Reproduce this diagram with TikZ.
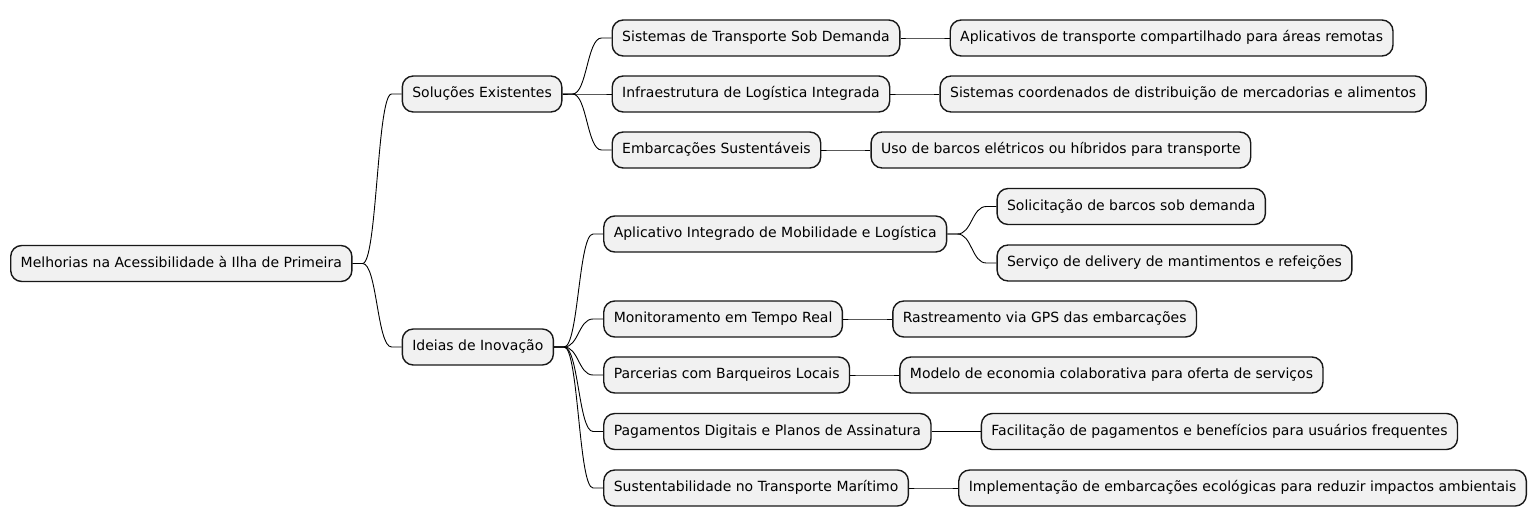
\documentclass[tikz,border=0pt]{standalone}
\usepackage{fontspec}
\setmainfont{DejaVu Sans}
\usetikzlibrary{calc}
\definecolor{boxfill}{HTML}{F1F1F1}
\definecolor{boxline}{HTML}{181818}
\begin{document}
\begin{tikzpicture}[x=1pt,y=-1pt,
  box/.style={draw=boxline, fill=boxfill, line width=1.4pt, rounded corners=11pt,
    anchor=west, inner xsep=10pt, inner ysep=0pt, minimum height=36pt,
    text height=10.5pt, text depth=3pt, font=\fontsize{14}{16}\selectfont},
  link/.style={draw=black, line width=0.9pt,
    to path={-- ++(10,0) .. controls +(14.5,0) and +(-14.5,0) .. ([xshift=-10pt]\tikztotarget) -- (\tikztotarget)}}
]
\useasboundingbox (0,0) rectangle (1538,527);
\node[box] (root) at (10,263.5) {Melhorias na Acessibilidade à Ilha de Primeira};
% level 1
\coordinate (L1) at ([xshift=49pt]root.east);
\node[box] (sol) at (L1 |- 0,94) {Soluções Existentes};
\node[box] (ide) at (L1 |- 0,347) {Ideias de Inovação};
% level 2 under Soluções
\coordinate (L2a) at ([xshift=49pt]sol.east);
\node[box] (s1) at (L2a |- 0,38) {Sistemas de Transporte Sob Demanda};
\node[box] (s2) at (L2a |- 0,94) {Infraestrutura de Logística Integrada};
\node[box] (s3) at (L2a |- 0,150) {Embarcações Sustentáveis};
% level 3 under Soluções children
\node[box] (s1a) at ([xshift=49pt]s1.east) {Aplicativos de transporte compartilhado para áreas remotas};
\node[box] (s2a) at ([xshift=49pt]s2.east) {Sistemas coordenados de distribuição de mercadorias e alimentos};
\node[box] (s3a) at ([xshift=49pt]s3.east) {Uso de barcos elétricos ou híbridos para transporte};
% level 2 under Ideias
\coordinate (L2b) at ([xshift=49pt]ide.east);
\node[box] (i1) at (L2b |- 0,234) {Aplicativo Integrado de Mobilidade e Logística};
\node[box] (i2) at (L2b |- 0,319) {Monitoramento em Tempo Real};
\node[box] (i3) at (L2b |- 0,375) {Parcerias com Barqueiros Locais};
\node[box] (i4) at (L2b |- 0,431.5) {Pagamentos Digitais e Planos de Assinatura};
\node[box] (i5) at (L2b |- 0,488) {Sustentabilidade no Transporte Marítimo};
% level 3 under Ideias children
\coordinate (L3) at ([xshift=49pt]i1.east);
\node[box] (i1a) at (L3 |- 0,206.5) {Solicitação de barcos sob demanda};
\node[box] (i1b) at (L3 |- 0,263) {Serviço de delivery de mantimentos e refeições};
\node[box] (i2a) at ([xshift=49pt]i2.east) {Rastreamento via GPS das embarcações};
\node[box] (i3a) at ([xshift=49pt]i3.east) {Modelo de economia colaborativa para oferta de serviços};
\node[box] (i4a) at ([xshift=49pt]i4.east) {Facilitação de pagamentos e benefícios para usuários frequentes};
\node[box] (i5a) at ([xshift=49pt]i5.east) {Implementação de embarcações ecológicas para reduzir impactos ambientais};
% connectors
\draw[link] (root.east) to (sol.west);
\draw[link] (root.east) to (ide.west);
\draw[link] (sol.east) to (s1.west);
\draw[link] (sol.east) to (s2.west);
\draw[link] (sol.east) to (s3.west);
\draw[link] (s1.east) to (s1a.west);
\draw[link] (s2.east) to (s2a.west);
\draw[link] (s3.east) to (s3a.west);
\draw[link] (ide.east) to (i1.west);
\draw[link] (ide.east) to (i2.west);
\draw[link] (ide.east) to (i3.west);
\draw[link] (ide.east) to (i4.west);
\draw[link] (ide.east) to (i5.west);
\draw[link] (i1.east) to (i1a.west);
\draw[link] (i1.east) to (i1b.west);
\draw[link] (i2.east) to (i2a.west);
\draw[link] (i3.east) to (i3a.west);
\draw[link] (i4.east) to (i4a.west);
\draw[link] (i5.east) to (i5a.west);
\end{tikzpicture}
\end{document}
